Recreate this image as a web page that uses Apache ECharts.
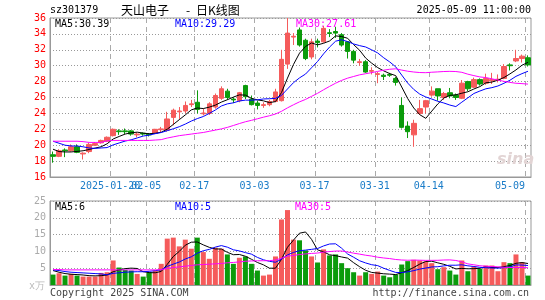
<!DOCTYPE html>
<html>
<head>
<meta charset="utf-8">
<script src="https://cdn.jsdelivr.net/npm/echarts/dist/echarts.min.js"></script>
<style>
html, body { margin: 0; padding: 0; background: #fff; }
#kline { width: 545px; height: 300px; }
</style>
</head>
<body>
<div id="kline"></div>
<script>
// 交易日 (2025-01-06 ~ 2025-05-09)
const dates = ['2025-01-06', '2025-01-07', '2025-01-08', '2025-01-09', '2025-01-10', '2025-01-13', '2025-01-14', '2025-01-15', '2025-01-16', '2025-01-17',
  '2025-01-20', '2025-01-21', '2025-01-22', '2025-01-23', '2025-01-24', '2025-01-27', '2025-02-05', '2025-02-06', '2025-02-07', '2025-02-10',
  '2025-02-11', '2025-02-12', '2025-02-13', '2025-02-14', '2025-02-17', '2025-02-18', '2025-02-19', '2025-02-20', '2025-02-21', '2025-02-24',
  '2025-02-25', '2025-02-26', '2025-02-27', '2025-02-28', '2025-03-03', '2025-03-04', '2025-03-05', '2025-03-06', '2025-03-07', '2025-03-10',
  '2025-03-11', '2025-03-12', '2025-03-13', '2025-03-14', '2025-03-17', '2025-03-18', '2025-03-19', '2025-03-20', '2025-03-21', '2025-03-24',
  '2025-03-25', '2025-03-26', '2025-03-27', '2025-03-28', '2025-03-31', '2025-04-01', '2025-04-02', '2025-04-03', '2025-04-07', '2025-04-08',
  '2025-04-09', '2025-04-10', '2025-04-11', '2025-04-14', '2025-04-15', '2025-04-16', '2025-04-17', '2025-04-18', '2025-04-21', '2025-04-22',
  '2025-04-23', '2025-04-24', '2025-04-25', '2025-04-28', '2025-04-29', '2025-04-30', '2025-05-06', '2025-05-07', '2025-05-08', '2025-05-09']

const open = [18.8, 18.6, 19.4, 19.3, 19.8, 18.9, 19.2, 20.0, 20.3, 20.5,
  21.2, 21.8, 21.8, 21.8, 21.3, 21.5, 21.4, 21.5, 21.95, 21.9,
  23.5, 24.2, 24.3, 25.1, 25.4, 23.95, 24.0, 24.8, 25.9, 26.8,
  25.8, 25.6, 27.5, 25.8, 25.3, 25.0, 25.1, 25.5, 25.6, 30.2,
  33.6, 34.5, 33.2, 31.1, 33.1, 33.0, 34.15, 34.3, 33.9, 33.0,
  31.8, 30.4, 30.5, 29.3, 28.9, 28.8, 28.9, 28.4, 25.0, 22.4,
  21.3, 24.0, 24.8, 26.3, 27.1, 26.0, 26.6, 26.3, 25.9, 28.0,
  27.3, 28.25, 27.8, 28.1, 28.2, 28.4, 30.1, 30.6, 30.9, 31.0]
const close = [18.6, 19.3, 19.3, 19.8, 19.1, 19.0, 20.1, 20.2, 20.6, 21.0,
  22.0, 21.7, 21.7, 21.4, 21.4, 21.4, 21.3, 22.0, 22.05, 23.3,
  24.4, 24.3, 25.0, 25.2, 24.5, 24.05, 25.2, 26.25, 27.1, 26.0,
  25.7, 26.6, 26.1, 25.1, 25.0, 25.1, 25.5, 26.7, 30.8, 34.1,
  33.7, 32.6, 30.9, 33.0, 32.9, 34.7, 34.05, 34.1, 32.6, 31.8,
  30.7, 30.5, 29.2, 29.4, 29.0, 28.65, 28.8, 27.9, 22.25, 21.7,
  22.75, 24.6, 25.6, 26.8, 26.2, 26.5, 26.2, 26.0, 27.8, 27.1,
  28.25, 27.7, 28.4, 28.25, 28.3, 29.9, 30.0, 30.9, 31.2, 30.1]
const low = [17.8, 18.5, 18.5, 19.2, 19.0, 18.2, 19.0, 19.9, 20.2, 20.4,
  21.1, 21.3, 21.4, 21.2, 21.0, 21.2, 21.1, 21.4, 21.6, 21.7,
  22.5, 23.3, 24.0, 24.8, 24.0, 23.75, 23.8, 24.6, 25.7, 25.7,
  25.3, 25.4, 25.8, 25.0, 24.5, 24.7, 24.9, 25.4, 25.5, 29.6,
  32.6, 32.4, 30.7, 30.8, 32.3, 32.9, 33.6, 33.5, 32.4, 30.9,
  30.3, 30.0, 29.1, 28.9, 27.8, 28.2, 28.6, 27.5, 22.1, 20.9,
  19.8, 23.8, 24.0, 26.1, 25.6, 25.7, 25.9, 25.7, 25.8, 26.8,
  27.2, 27.5, 27.6, 27.7, 27.9, 28.3, 29.4, 30.45, 30.4, 29.9]
const high = [19.2, 19.5, 19.6, 20.1, 20.1, 19.1, 20.3, 20.4, 20.7, 21.1,
  22.1, 22.0, 22.1, 21.9, 21.6, 21.6, 21.5, 22.05, 22.3, 24.2,
  24.6, 24.8, 25.5, 25.7, 26.9, 24.6, 25.4, 26.5, 27.4, 27.1,
  26.0, 26.7, 27.6, 26.25, 25.6, 25.4, 25.7, 27.1, 32.0, 36.0,
  34.1, 34.8, 33.4, 33.4, 33.4, 35.0, 34.6, 34.9, 34.1, 33.1,
  32.0, 30.85, 30.7, 29.8, 29.2, 29.0, 29.1, 28.6, 26.0, 23.0,
  23.2, 25.7, 25.7, 27.4, 27.1, 26.7, 27.2, 26.5, 28.2, 28.1,
  28.5, 28.4, 29.0, 29.1, 28.9, 30.2, 30.3, 32.0, 31.4, 31.3]
// 成交量 (万手)
const volume = [3.1, 3.5, 2.8, 3.3, 2.8, 2.5, 2.5, 2.5, 3.6, 3.8,
  7.3, 5.2, 4.5, 4.3, 3.3, 2.5, 3.8, 4.3, 6.3, 13.8,
  14.1, 11.5, 13.5, 10.8, 14.1, 9.8, 7.8, 11.1, 10.8, 9.1,
  6.3, 8.1, 8.5, 6.3, 4.3, 2.8, 3.1, 8.5, 19.5, 22.3,
  13.5, 13.3, 10.3, 8.5, 6.7, 10.6, 8.8, 9.1, 6.5, 5.0,
  3.8, 2.8, 3.8, 3.3, 4.0, 2.8, 2.3, 3.1, 6.1, 7.1,
  7.5, 7.3, 7.0, 6.5, 4.7, 5.3, 4.3, 3.1, 7.3, 4.1,
  5.5, 4.8, 5.8, 5.8, 4.1, 6.8, 6.5, 9.1, 6.8, 2.8]

// 均线起始段 (窗口之前的数据不在图内, 从图上读取)
const ma5Head = [19.5, 19.2, 19.15, 19.15]
const ma10Head = [20.5, 20.25, 20.0, 19.9, 19.9, 19.8, 19.65, 19.6, 19.65]
const ma30Head = [20.5, 20.5, 20.5, 20.5, 20.5, 20.45, 20.35, 20.35, 20.35, 20.55,
  20.6, 20.6, 20.6, 20.6, 20.6, 20.6, 20.6, 20.65, 20.7, 20.9,
  21.05, 21.2, 21.3, 21.4, 21.5, 21.6, 21.75, 21.9, 22.05]
const volMa5Head = [4.3, 3.8, 3.4, 3.2]
const volMa10Head = [4.5, 4.3, 4.0, 3.8, 3.7, 3.6, 3.5, 3.4, 3.3]
const volMa30Head = [4.6, 4.6, 4.5, 4.5, 4.5, 4.5, 4.5, 4.5, 4.5, 4.5,
  4.5, 4.5, 4.5, 4.5, 4.5, 4.5, 4.5, 4.5, 4.6, 4.9,
  5.2, 5.4, 5.6, 5.8, 6.0, 6.1, 6.2, 6.3, 6.4]

// 日期刻度
const tickDates = ['2025-01-20', '2025-02-05', '2025-02-17', '2025-03-03', '2025-03-17', '2025-03-31', '2025-04-14', '2025-05-09']
const tickLabels = ['2025-01-20', '02-05', '02-17', '03-03', '03-17', '03-31', '04-14', '05-09']

const UP = '#f55b5b'
const DOWN = '#0b9b0b'
const MONO = 'DejaVu Sans Mono'

// 两个窗格的位置
const PANE_LEFT = 50
const PANE_WIDTH = 481
const PRICE_TOP = 18
const PRICE_HEIGHT = 159
const VOL_TOP = 201
const VOL_HEIGHT = 84

function ma (values, n, head) {
  return values.map(function (v, i) {
    if (i < n - 1) return head[i]
    let s = 0
    for (let k = i - n + 1; k <= i; k++) s += values[k]
    return +(s / n).toFixed(3)
  })
}

const candles = dates.map(function (d, i) {
  return [open[i], close[i], low[i], high[i]]
})
const volBars = volume.map(function (v, i) {
  return { value: v, itemStyle: { color: close[i] >= open[i] ? UP : DOWN } }
})

// which: 'grid' 不画日期, 'main' 画大部分日期, 'first' 只画第一个日期
function xAxisOf (gridIdx, which) {
  const first = tickDates[0]
  return {
    type: 'category',
    gridIndex: gridIdx,
    position: 'bottom',
    data: dates,
    boundaryGap: true,
    axisLine: { show: which !== 'first', lineStyle: { color: '#999' } },
    axisTick: { show: false },
    splitLine: { show: false },
    axisLabel: {
      show: which !== 'grid',
      interval: function (index, value) {
        if (which === 'first') return value === first
        return tickDates.indexOf(value) >= 0 && value !== first
      },
      formatter: function (value) {
        const label = tickLabels[tickDates.indexOf(value)]
        return value === tickDates[tickDates.length - 1] ? '{last|' + label + '}' : label
      },
      hideOverlap: false,
      color: '#1a7cc8',
      fontFamily: MONO,
      fontSize: 10,
      margin: 4,
      padding: [0, 6, 0, 0],
      rich: {
        last: { color: '#1a7cc8', fontFamily: MONO, fontSize: 10, padding: [0, 30, 0, 0] }
      }
    }
  }
}

function txt (left, top, text, color, extra) {
  return Object.assign({
    type: 'text',
    left: left,
    top: top,
    style: { text: text, fill: color, font: '10px "' + MONO + '"' }
  }, extra || {})
}

const option = {
  animation: false,
  grid: [
    { left: PANE_LEFT, top: PRICE_TOP, width: PANE_WIDTH, height: PRICE_HEIGHT, show: true, borderColor: '#999', borderWidth: 1 },
    { left: PANE_LEFT, top: VOL_TOP, width: PANE_WIDTH, height: VOL_HEIGHT, show: true, borderColor: '#999', borderWidth: 1 }
  ],
  xAxis: [xAxisOf(0, 'main'), xAxisOf(1, 'grid'), xAxisOf(0, 'first')],
  yAxis: [
    {
      gridIndex: 0,
      min: 16,
      max: 36,
      interval: 2,
      axisLine: { show: true, lineStyle: { color: '#999' } },
      axisTick: { show: false },
      splitLine: { lineStyle: { color: '#999', type: [1, 2] } },
      axisLabel: { color: '#f00', fontFamily: MONO, fontSize: 10, margin: 4 }
    },
    {
      gridIndex: 1,
      min: 0,
      max: 25,
      interval: 5,
      axisLine: { show: true, lineStyle: { color: '#999' } },
      axisTick: { show: false },
      splitLine: { lineStyle: { color: '#999', type: [1, 2] } },
      axisLabel: {
        color: '#aaa',
        fontFamily: MONO,
        fontSize: 10,
        margin: 4,
        formatter: function (v) { return v === 0 ? '' : v }
      }
    }
  ],
  series: [
    {
      name: 'K',
      type: 'candlestick',
      xAxisIndex: 0,
      yAxisIndex: 0,
      barWidth: 5,
      data: candles,
      itemStyle: { color: UP, color0: DOWN, borderColor: UP, borderColor0: DOWN, borderWidth: 1 }
    },
    { name: 'MA5', type: 'line', xAxisIndex: 0, yAxisIndex: 0, data: ma(close, 5, ma5Head), showSymbol: false, lineStyle: { color: '#000', width: 1 }, itemStyle: { color: '#000' } },
    { name: 'MA10', type: 'line', xAxisIndex: 0, yAxisIndex: 0, data: ma(close, 10, ma10Head), showSymbol: false, lineStyle: { color: '#00f', width: 1 }, itemStyle: { color: '#00f' } },
    { name: 'MA30', type: 'line', xAxisIndex: 0, yAxisIndex: 0, data: ma(close, 30, ma30Head), showSymbol: false, lineStyle: { color: '#f0f', width: 1 }, itemStyle: { color: '#f0f' } },
    {
      name: 'VOL',
      type: 'bar',
      xAxisIndex: 1,
      yAxisIndex: 1,
      barWidth: 5,
      data: volBars
    },
    { name: 'VMA5', type: 'line', xAxisIndex: 1, yAxisIndex: 1, data: ma(volume, 5, volMa5Head), showSymbol: false, lineStyle: { color: '#000', width: 1 }, itemStyle: { color: '#000' } },
    { name: 'VMA10', type: 'line', xAxisIndex: 1, yAxisIndex: 1, data: ma(volume, 10, volMa10Head), showSymbol: false, lineStyle: { color: '#00f', width: 1 }, itemStyle: { color: '#00f' } },
    { name: 'VMA30', type: 'line', xAxisIndex: 1, yAxisIndex: 1, data: ma(volume, 30, volMa30Head), showSymbol: false, lineStyle: { color: '#f0f', width: 1 }, itemStyle: { color: '#f0f' } }
  ]
}

const chart = echarts.init(document.getElementById('kline'))
chart.setOption(option)

// 取坐标轴换算的像素, 换算失败时退回窗格的几何位置
function num (v, fallback) {
  if (Array.isArray(v)) v = v[0]
  return (typeof v === 'number' && isFinite(v)) ? v : fallback
}

// 竖向虚线: 日期格子的左边
const band = PANE_WIDTH / dates.length
const dashLines = []
tickDates.forEach(function (d) {
  const i = dates.indexOf(d)
  let x
  try {
    x = num(chart.convertToPixel({ xAxisIndex: 0 }, d) - band / 2, PANE_LEFT + band * i)
  } catch (e) {
    x = PANE_LEFT + band * i
  }
  x = Math.round(x) + 0.5
  dashLines.push({ type: 'line', shape: { x1: x, y1: PRICE_TOP, x2: x, y2: PRICE_TOP + PRICE_HEIGHT }, style: { stroke: '#aaa', lineWidth: 1, lineDash: [5, 4] } })
  dashLines.push({ type: 'line', shape: { x1: x, y1: VOL_TOP, x2: x, y2: VOL_TOP + VOL_HEIGHT }, style: { stroke: '#aaa', lineWidth: 1, lineDash: [5, 4] } })
})

const texts = [
  txt(50, 5, 'sz301379', '#000'),
  { type: 'text', left: 121, top: 4, style: { text: '天山电子', fill: '#000', font: '12px "Noto Sans CJK SC"' } },
  { type: 'text', left: 186, top: 4, style: { text: '-', fill: '#000', font: '12px "Noto Sans CJK SC"' } },
  { type: 'text', left: 196, top: 4, style: { text: '日K线图', fill: '#000', font: '12px "Noto Sans CJK SC"' } },
  txt(null, 5, '2025-05-09 11:00:00', '#000', { right: 14 }),
  txt(55, 19, 'MA5:30.39', '#000'),
  txt(175, 19, 'MA10:29.29', '#00f'),
  txt(296, 19, 'MA30:27.61', '#f0f'),
  txt(55, 202, 'MA5:6', '#000'),
  txt(175, 202, 'MA10:5', '#00f'),
  txt(295, 202, 'MA30:5', '#f0f'),
  txt(29, 281, 'x万', '#bbb'),
  txt(50, 288, 'Copyright 2025 SINA.COM', '#444'),
  txt(null, 288, 'http://finance.sina.com.cn', '#444', { right: 16 }),
  { type: 'text', left: 497, top: 152, style: { text: 'sina', fill: '#e2d4d4', font: 'italic bold 16px "DejaVu Sans"' } }
]

chart.setOption({ graphic: dashLines.concat(texts) })
</script>
</body>
</html>
